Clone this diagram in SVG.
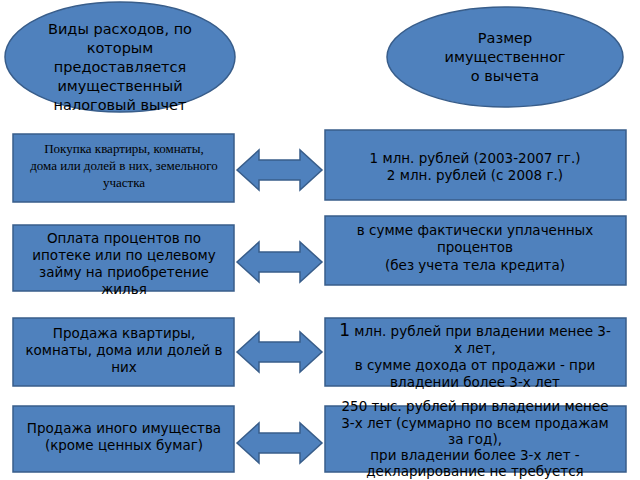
<svg xmlns="http://www.w3.org/2000/svg" width="640" height="480" viewBox="0 0 640 480">
<style>
.n{fill:#4F81BD;stroke:#385D8A;stroke-width:1.5}
.e{fill:#4F81BD;stroke:#385D8A;stroke-width:1.5}
text{font-family:"DejaVu Sans",sans-serif;font-size:13.5px;fill:#000;text-anchor:middle}
.s{font-family:"Liberation Serif",serif;font-size:13px}
.b{font-size:14.5px}
</style>
<defs>
<path id="da" class="n" d="M0,0 L22,-20 L22,-10 L63,-10 L63,-20 L85,0 L63,20 L63,10 L22,10 L22,20 Z"/>
</defs>
<rect width="640" height="480" fill="#fff"/>
<g id="h1"><ellipse class="e" cx="120" cy="57" rx="115" ry="55"/>
<text class="b" x="120" y="34">Виды расходов, по</text><text class="b" x="120" y="53">которым</text><text class="b" x="120" y="72">предоставляется</text><text class="b" x="120" y="91">имущественный</text><text class="b" x="120" y="110">налоговый вычет</text></g>
<g id="h2"><ellipse class="e" cx="505" cy="57" rx="118" ry="50"/>
<text class="b" x="505" y="43">Размер</text><text class="b" x="505" y="62">имущественног</text><text class="b" x="505" y="81">о вычета</text></g>
<g id="l1"><rect class="n" x="13" y="134" width="221" height="68"/>
<text class="s" x="124" y="153">Покупка квартиры, комнаты,</text><text class="s" x="124" y="170">дома или долей в них, земельного</text><text class="s" x="124" y="187">участка</text></g>
<g id="l2"><rect class="n" x="13" y="225" width="221" height="66"/>
<text x="124" y="243">Оплата процентов по</text><text x="124" y="260">ипотеке или по целевому</text><text x="124" y="277">займу на приобретение</text><text x="124" y="294">жилья</text></g>
<g id="l3"><rect class="n" x="13" y="318" width="221" height="68"/>
<text x="124" y="338">Продажа квартиры,</text><text x="124" y="355">комнаты, дома или долей в</text><text x="124" y="372">них</text></g>
<g id="l4"><rect class="n" x="13" y="406" width="221" height="66"/>
<text x="124" y="433">Продажа иного имущества</text><text x="124" y="450">(кроме ценных бумаг)</text></g>
<g id="r1"><rect class="n" x="325" y="130" width="301" height="70"/>
<text x="475" y="163">1 млн. рублей (2003-2007 гг.)</text><text x="475" y="180">2 млн. рублей (с 2008 г.)</text></g>
<g id="r2"><rect class="n" x="325" y="216" width="301" height="69"/>
<text x="475" y="235">в сумме фактически уплаченных</text><text x="475" y="252">процентов</text><text x="475" y="270">(без учета тела кредита)</text></g>
<g id="r3"><rect class="n" x="325" y="318" width="301" height="68"/>
<text x="475" y="336"><tspan font-size="17">1</tspan> млн. рублей при владении менее 3-</text><text x="475" y="353">х лет,</text><text x="475" y="370">в сумме дохода от продажи - при</text><text x="475" y="387">владении более 3-х лет</text></g>
<g id="r4"><rect class="n" x="325" y="406" width="301" height="66"/>
<text x="475" y="411">250 тыс. рублей при владении менее</text><text x="475" y="428">3-х лет (суммарно по всем продажам</text><text x="475" y="444">за год),</text><text x="475" y="460">при владении более 3-х лет -</text><text x="475" y="476">декларирование не требуется</text></g>
<g id="connectors">
<use href="#da" x="237" y="170"/><use href="#da" x="237" y="262"/><use href="#da" x="237" y="352"/><use href="#da" x="237" y="443"/>
</g>
</svg>
